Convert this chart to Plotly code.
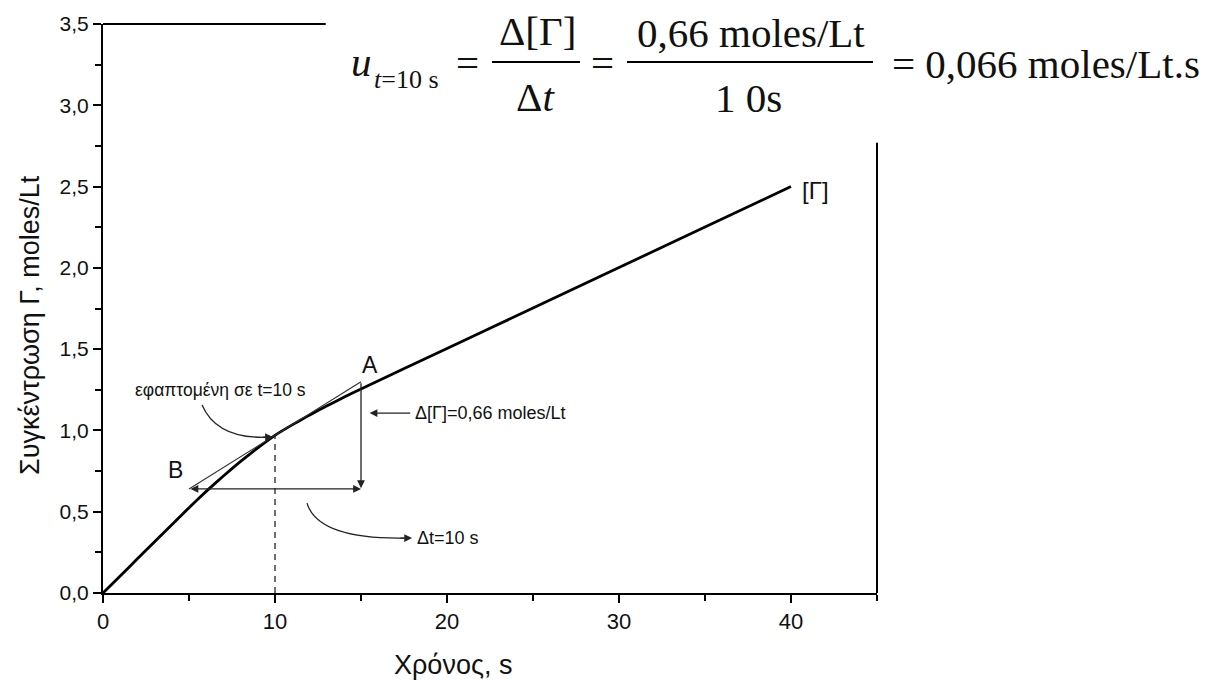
import plotly.graph_objects as go

# ---- data ----
time_s = [0, 1, 2, 3, 4, 5, 6, 7, 8, 9, 10, 11, 12, 13, 14, 15, 20, 25, 30, 35, 40]
conc_G = [0, 0.105, 0.21, 0.315, 0.42, 0.525, 0.625, 0.72, 0.81, 0.893, 0.97, 1.034, 1.094,
          1.15, 1.204, 1.255, 1.504, 1.753, 2.002, 2.251, 2.50]
t_tangent = 10
c_tangent = 0.97
rate = 0.066
tangent_x = [5, 15]
tangent_y = [c_tangent + rate * (x - t_tangent) for x in tangent_x]
x_ticks = [0, 10, 20, 30, 40]
y_ticks = [0, 0.5, 1.0, 1.5, 2.0, 2.5, 3.0, 3.5]
y_ticklabels = ["0,0", "0,5", "1,0", "1,5", "2,0", "2,5", "3,0", "3,5"]

W, H = 1216, 682
L, R, T, B = 103, 877, 24, 593

def px(x):
    return (x - L) / (R - L)

def py(y):
    return (B - y) / (B - T)

fig = go.Figure()
fig.add_trace(go.Scatter(x=time_s, y=conc_G, mode="lines",
                         line=dict(color="black", width=2.8, shape="spline", smoothing=0.3),
                         hoverinfo="skip", showlegend=False))
fig.add_trace(go.Scatter(x=tangent_x, y=tangent_y, mode="lines",
                         line=dict(color="#333", width=1.2), showlegend=False))
fig.add_trace(go.Scatter(x=[t_tangent, t_tangent], y=[0, c_tangent], mode="lines",
                         line=dict(color="#222", width=1.3, dash="6px,5px"), showlegend=False))

serif = "Liberation Serif, Times New Roman, serif"
sans = "Liberation Sans, Arial, sans-serif"
ann = []

def txt(text, x, y, size, xref="x", yref="y", font=sans, xanchor="center", yanchor="middle", angle=0):
    ann.append(dict(text=text, x=x, y=y, xref=xref, yref=yref, showarrow=False,
                    font=dict(family=font, size=size, color="#111"),
                    xanchor=xanchor, yanchor=yanchor, textangle=angle))

def arrow(x0, y0, x1, y1, head=2, side="end", width=1.3):
    ann.append(dict(x=x1, y=y1, ax=x0, ay=y0, xref="x", yref="y", axref="x", ayref="y",
                    text="", showarrow=True, arrowhead=head, arrowside=side,
                    arrowsize=1.2, arrowwidth=width, arrowcolor="#222", startarrowhead=head,
                    startarrowsize=1.2))

# measurement arrows
arrow(tangent_x[0], tangent_y[0], tangent_x[1], tangent_y[0], side="end+start")
arrow(tangent_x[1], tangent_y[1], tangent_x[1], tangent_y[0] + 0.005)
arrow(17.95, 1.107, 15.5, 1.107)
# arrowheads at end of curved leaders
arrow(9.2, 0.958, 9.88, 0.959)
arrow(17.2, 0.338, 17.97, 0.338)

shapes = [
    dict(type="path", xref="x", yref="y", path="M 5.76,1.157 Q 6.6,0.95 9.5,0.958",
         line=dict(color="#222", width=1.3)),
    dict(type="path", xref="x", yref="y", path="M 11.86,0.553 Q 12.5,0.33 17.5,0.338",
         line=dict(color="#222", width=1.3)),
    # partial frame (top and right)
    dict(type="line", xref="x", yref="paper", x0=0, x1=12.95, y0=1, y1=1,
         line=dict(color="black", width=2)),
    dict(type="line", xref="paper", yref="y", x0=1, x1=1, y0=0, y1=2.77,
         line=dict(color="black", width=2)),
    # fraction bars of the equation
    dict(type="line", xref="paper", yref="paper", x0=px(492), x1=px(580), y0=py(62), y1=py(62),
         line=dict(color="black", width=1.8)),
    dict(type="line", xref="paper", yref="paper", x0=px(627), x1=px(873), y0=py(62), y1=py(62),
         line=dict(color="black", width=1.8)),
]

# labels on the chart
txt("A", 15.52, 1.402, 23)
txt("B", 4.24, 0.756, 23)
txt("[Γ]", 41.4, 2.478, 24)
txt("εφαπτομένη σε t=10 s", 6.86, 1.248, 17.5)
txt("Δ[Γ]=0,66 moles/Lt", 18.05, 1.107, 18, xanchor="left")
txt("Δt=10 s", 18.15, 0.338, 18, xanchor="left")

# axis titles
txt("Χρόνος, s", px(453), py(665), 27, xref="paper", yref="paper")
txt("Συγκέντρωση Γ, moles/Lt", px(30), py(325), 27, xref="paper", yref="paper", angle=-90)

# equation
eq = 41
txt("<i>u</i>", px(361), py(62), eq, xref="paper", yref="paper", font=serif)
txt("<i>t</i>=10 s", px(372), py(80), 26, xref="paper", yref="paper", font=serif, xanchor="left")
txt("=", px(467), py(63), eq, xref="paper", yref="paper", font=serif)
txt("Δ[Γ]", px(537), py(31), eq, xref="paper", yref="paper", font=serif)
txt("Δ<i>t</i>", px(535), py(97), eq, xref="paper", yref="paper", font=serif)
txt("=", px(602), py(63), eq, xref="paper", yref="paper", font=serif)
txt("0,66 moles/Lt", px(751), py(33), eq, xref="paper", yref="paper", font=serif)
txt("1 0s", px(748), py(98), eq, xref="paper", yref="paper", font=serif)
txt("= 0,066 moles/Lt.s", px(1046), py(64), eq, xref="paper", yref="paper", font=serif)

fig.update_layout(
    width=W, height=H,
    margin=dict(l=L, r=W - R, t=T, b=H - B),
    paper_bgcolor="white", plot_bgcolor="white",
    showlegend=False,
    annotations=ann, shapes=shapes,
    font=dict(family=sans, color="#111"),
    xaxis=dict(range=[0, 45], tickvals=x_ticks, ticktext=[str(v) for v in x_ticks],
               showgrid=False, zeroline=False, showline=True, linecolor="black", linewidth=2,
               ticks="outside", ticklen=8, tickwidth=2, tickcolor="black",
               tickfont=dict(size=22, family=sans, color="#111"),
               minor=dict(ticks="outside", ticklen=6, tickwidth=2, dtick=5, tick0=0, tickcolor="black")),
    yaxis=dict(range=[0, 3.5], tickvals=y_ticks, ticktext=y_ticklabels,
               showgrid=False, zeroline=False, showline=True, linecolor="black", linewidth=2,
               ticks="outside", ticklen=8, tickwidth=2, tickcolor="black",
               tickfont=dict(size=21, family=sans, color="#111"),
               minor=dict(ticks="outside", ticklen=6, tickwidth=2, dtick=0.25, tick0=0, tickcolor="black")),
)

fig.write_html("out.html")
